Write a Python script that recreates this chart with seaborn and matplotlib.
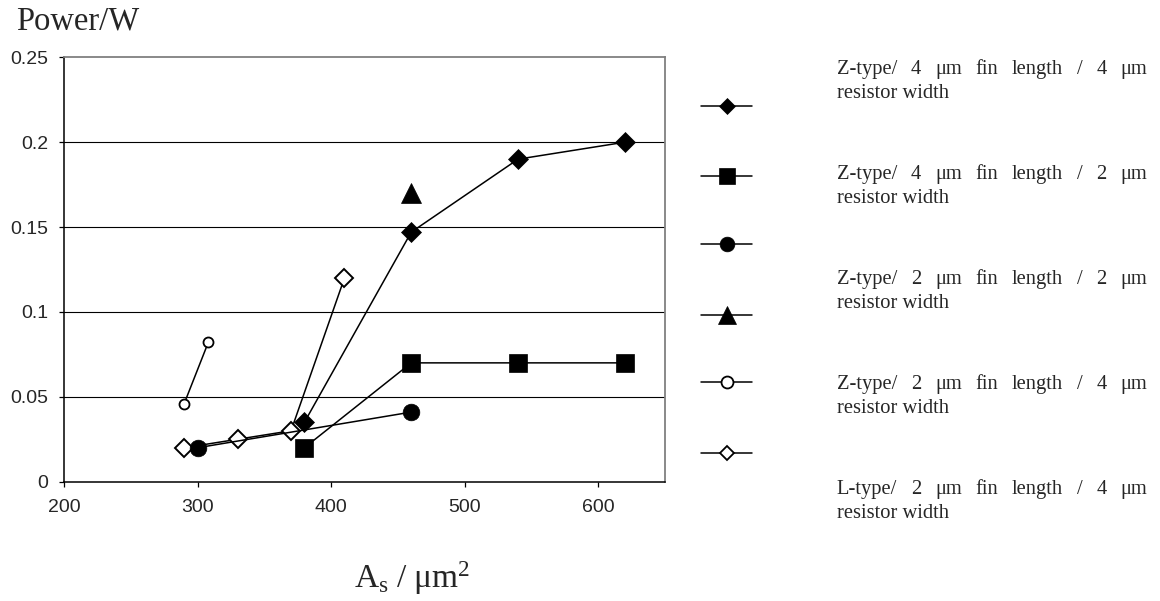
import matplotlib
matplotlib.use("Agg")
import matplotlib.pyplot as plt
from matplotlib.lines import Line2D
import seaborn as sns
import pandas as pd

# ---- data -------------------------------------------------------------
z44_x = [380, 460, 540, 620]
z44_y = [0.035, 0.147, 0.19, 0.2]

z42_x = [380, 460, 540, 620]
z42_y = [0.02, 0.07, 0.07, 0.07]

z22c_x = [300, 460]
z22c_y = [0.02, 0.041]

z22t_x = [460]
z22t_y = [0.17]

z24_x = [290, 308]
z24_y = [0.046, 0.082]

l24_x = [290, 330, 370, 410]
l24_y = [0.02, 0.025, 0.03, 0.12]

x_ticks = [200, 300, 400, 500, 600]
y_ticks = [0, 0.05, 0.1, 0.15, 0.2, 0.25]
y_tick_labels = ["0", "0.05", "0.1", "0.15", "0.2", "0.25"]

legend_text = [
    ("Z-type/ 4 μm fin length / 4 μm", "resistor width"),
    ("Z-type/ 4 μm fin length / 2 μm", "resistor width"),
    ("Z-type/ 2 μm fin length / 2 μm", "resistor width"),
    ("Z-type/ 2 μm fin length / 4 μm", "resistor width"),
    ("L-type/ 2 μm fin length / 4 μm", "resistor width"),
]

# ---- style ------------------------------------------------------------
sns.set_style("white")
plt.rcParams["font.family"] = ["Liberation Sans", "DejaVu Sans"]
plt.rcParams["mathtext.fontset"] = "custom"
plt.rcParams["mathtext.rm"] = "Liberation Serif"
plt.rcParams["mathtext.it"] = "Liberation Serif:italic"

W, H = 1160, 601
fig = plt.figure(figsize=(W / 100, H / 100), dpi=100)
fig.patch.set_facecolor("white")

def fx(px):
    return px / W

def fy(py):
    return 1 - py / H

left, right, top, bottom = 64, 665, 57.3, 481.7
ax = fig.add_axes([fx(left), fy(bottom), fx(right - left), (bottom - top) / H])

# ---- series -----------------------------------------------------------
series = [
    # x, y, marker, size, face, edge width
    (l24_x, l24_y, "D", 9.0, "white", 1.4),
    (z24_x, z24_y, "o", 7.2, "white", 1.3),
    (z22t_x, z22t_y, "^", 15, "black", 0.5),
    (z42_x, z42_y, "s", 13, "black", 0.5),
    (z22c_x, z22c_y, "o", 12, "black", 0.5),
    (z44_x, z44_y, "D", 10.3, "black", 0.5),
]
for xs, ys, mk, ms, fc, mew in series:
    df = pd.DataFrame({"x": xs, "y": ys})
    sns.lineplot(data=df, x="x", y="y", ax=ax, color="black", lw=1.1,
                 marker=mk, markersize=ms, markerfacecolor=fc,
                 markeredgecolor="black", markeredgewidth=mew,
                 estimator=None, sort=False)

# ---- axes -------------------------------------------------------------
ax.set_xlim(200, 650)
ax.set_ylim(0, 0.25)
ax.set_xticks(x_ticks)
ax.set_xticklabels([str(t) for t in x_ticks])
ax.set_yticks(y_ticks)
ax.set_yticklabels(y_tick_labels)
ax.set_xlabel("")
ax.set_ylabel("")
for yv in y_ticks[1:-1]:
    ax.axhline(yv, color="black", lw=0.8, zorder=0.5)

ax.tick_params(axis="x", direction="out", length=3.6, width=0.9,
               color="black", labelsize=14, pad=9, bottom=True)
ax.tick_params(axis="y", direction="out", length=3.6, width=0.9,
               color="black", labelsize=14, pad=7.5, left=True)
for side in ("left", "bottom"):
    ax.spines[side].set_color("black")
    ax.spines[side].set_linewidth(1.1)
for side in ("top", "right"):
    ax.spines[side].set_visible(True)
    ax.spines[side].set_color("#808080")
    ax.spines[side].set_linewidth(1.3)

# ---- titles -----------------------------------------------------------
fig.text(fx(16), fy(29), "Power/W", family="Liberation Serif",
         fontsize=23.5, ha="left", va="baseline")
fig.text(fx(354), fy(588), r"$\mathrm{A_s\ /\ μm^2}$",
         fontsize=24, ha="left", va="baseline")

# ---- legend handles ---------------------------------------------------
handle_specs = [
    ("D", 8.0, "black", 0.5, 107.3),
    ("s", 11.3, "black", 0.5, 176.7),
    ("o", 10.6, "black", 0.5, 245.0),
    ("^", 13.0, "black", 0.5, 316.0),
    ("o", 8.6, "white", 1.3, 382.7),
    ("D", 7.6, "white", 1.3, 454.0),
]
for mk, ms, fc, mew, yy in handle_specs:
    h = Line2D([], [], color="black", lw=1.1, marker=mk, markersize=ms,
               markerfacecolor=fc, markeredgecolor="black",
               markeredgewidth=mew)
    fig.legend(handles=[h], labels=[""], loc="center left",
               bbox_to_anchor=(fx(700.7), fy(yy)), frameon=False,
               fontsize=10, handlelength=3.72, borderpad=0,
               borderaxespad=0, handletextpad=0)

# ---- justified legend text --------------------------------------------
renderer = fig.canvas.get_renderer()
tx0, tx1 = 836.7, 1147.3
text_fs = 14.8
for i, (line1, line2) in enumerate(legend_text):
    base = 74 + 105 * i
    words = line1.split()
    items = [fig.text(0, fy(base), w, family="Liberation Serif",
                      fontsize=text_fs, ha="left", va="baseline")
             for w in words]
    widths = [t.get_window_extent(renderer).width for t in items]
    gap = (tx1 - tx0 - sum(widths)) / (len(words) - 1)
    xpos = tx0
    for t, wdt in zip(items, widths):
        t.set_x(fx(xpos))
        xpos += wdt + gap
    fig.text(fx(tx0), fy(base + 23.7), line2, family="Liberation Serif",
             fontsize=text_fs, ha="left", va="baseline")

fig.savefig("out.png", dpi=100, facecolor="white")
